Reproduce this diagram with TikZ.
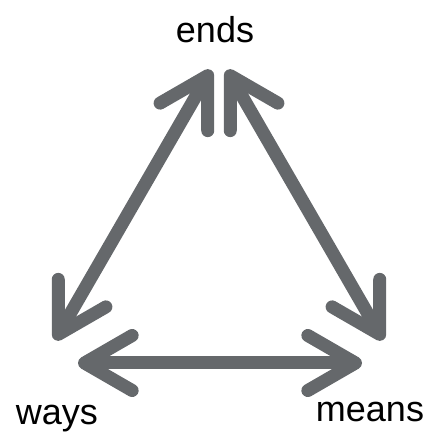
\documentclass[tikz,border=0pt]{standalone}
\usepackage{fontspec}
\setmainfont{Liberation Sans}
\usetikzlibrary{arrows.meta}
\definecolor{arrgray}{HTML}{65686B}
\begin{document}
\begin{tikzpicture}[x=1pt,y=1pt,
  lab/.style={font=\fontsize{36}{40}\selectfont, inner sep=0pt, anchor=base, text=black},
  dblarr/.style={draw=arrgray, line width=13pt, line cap=round,
    {Straight Barb[angle=60:55pt, round]}-{Straight Barb[angle=60:55pt, round]}}]
\useasboundingbox (0,0) rectangle (429,432);
\node[lab] (ends) at (215,389) {ends};
\node[lab] (ways) at (57,7) {ways};
\node[lab] (means) at (370,11) {means};
\coordinate (lt) at (211,362);
\coordinate (lb) at (55,92);
\coordinate (rt) at (227,362);
\coordinate (rb) at (383,92);
\coordinate (bl) at (78,69);
\coordinate (br) at (362,69);
\draw[dblarr] (lb) -- (lt);
\draw[dblarr] (rt) -- (rb);
\draw[dblarr] (bl) -- (br);
\end{tikzpicture}
\end{document}
